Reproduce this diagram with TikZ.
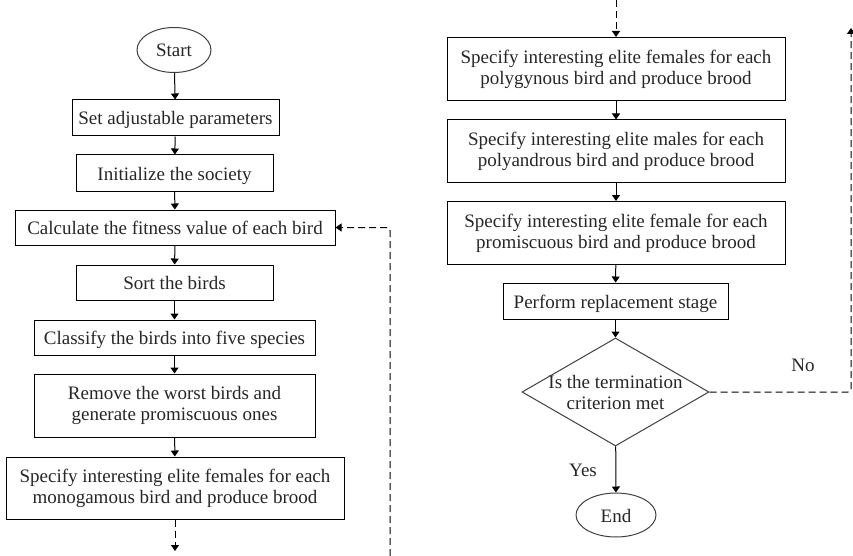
\documentclass[tikz,border=0pt]{standalone}
\usepackage{fontspec}
\setmainfont{Liberation Serif}
\usetikzlibrary{shapes.geometric,arrows.meta}
\definecolor{txt}{HTML}{262626}
\tikzset{
  box/.style={draw=black, line width=1pt, rectangle, inner sep=0pt, align=center, text=txt},
  one/.style={text height=15pt, text depth=1pt},
  oval/.style={draw=black!75, line width=1pt, ellipse, inner sep=0pt, text=txt, one},
  dec/.style={draw=black!75, line width=1pt, diamond, inner sep=0pt},
  flow/.style={line width=1pt, -{Triangle[width=8pt,length=6pt]}},
  dflow/.style={flow, dash pattern=on 7pt off 4pt},
  lbl/.style={text=txt, inner sep=0pt}
}
\begin{document}
\begin{tikzpicture}[x=1pt,y=-1pt, font=\fontsize{19}{21}\selectfont]
\useasboundingbox (0,0) rectangle (853,556);
% left column
\node[oval, minimum width=74pt, minimum height=45pt] (start) at (174,50) {Start};
\node[box, one, minimum width=207pt, minimum height=36pt] (set) at (175.5,118) {Set adjustable parameters};
\node[box, one, minimum width=197pt, minimum height=36pt] (init) at (174.5,173) {Initialize the society};
\node[box, one, minimum width=320pt, minimum height=35pt] (calc) at (175,227.5) {Calculate the fitness value of each bird};
\node[box, one, minimum width=197pt, minimum height=35pt] (sort) at (174.5,282.5) {Sort the birds};
\node[box, one, minimum width=281pt, minimum height=35pt] (class) at (174.5,337.5) {Classify the birds into five species};
\node[box, minimum width=281pt, minimum height=63pt] (remove) at (174.5,405.5) {Remove the worst birds and\\generate promiscuous ones};
\node[box, minimum width=338pt, minimum height=62pt] (mono) at (175,488) {Specify interesting elite females for each\\monogamous bird and produce brood};
\coordinate (monoout) at (175,551);
\coordinate (loopbot) at (390,556);
\coordinate (loopcorner) at (390,227.5);
% right column
\coordinate (rtop) at (616,0);
\node[box, minimum width=338pt, minimum height=63pt] (poly) at (616,69) {Specify interesting elite females for each\\polygynous bird and produce brood};
\node[box, minimum width=338pt, minimum height=62pt] (andro) at (616,151) {Specify interesting elite males for each\\polyandrous bird and produce brood};
\node[box, minimum width=338pt, minimum height=63pt] (prom) at (616,233) {Specify interesting elite female for each\\promiscuous bird and produce brood};
\node[box, one, minimum width=225pt, minimum height=36pt] (repl) at (615.5,301) {Perform replacement stage};
\node[dec, minimum width=187pt, minimum height=108pt,
      label={[lbl, align=center]center:Is the termination\\criterion met}] (term) at (615.5,392) {};
\node[oval, minimum width=80pt, minimum height=44pt] (end) at (616,515) {End};
\coordinate (nocorner) at (851,392);
\coordinate (notop) at (851,28);
\node[lbl] (yes) at (583,470) {Yes};
\node[lbl] (no) at (803,365) {No};
% connectors
\draw[flow] (start) -- (set);
\draw[flow] (set) -- (init);
\draw[flow] (init) -- (calc);
\draw[flow] (calc) -- (sort);
\draw[flow] (sort) -- (class);
\draw[flow] (class) -- (remove);
\draw[flow] (remove) -- (mono);
\draw[dflow] (mono) -- (monoout);
\draw[dflow, rounded corners=3pt] (loopbot) -- (loopcorner) -- (calc.east);
\draw[dflow] (rtop) -- (poly);
\draw[flow] (poly) -- (andro);
\draw[flow] (andro) -- (prom);
\draw[flow] (prom) -- (repl);
\draw[flow] (repl) -- (term);
\draw[flow] (term) -- (end);
\draw[dflow, rounded corners=3pt] (term.east) -- (nocorner) -- (notop);
\end{tikzpicture}
\end{document}
